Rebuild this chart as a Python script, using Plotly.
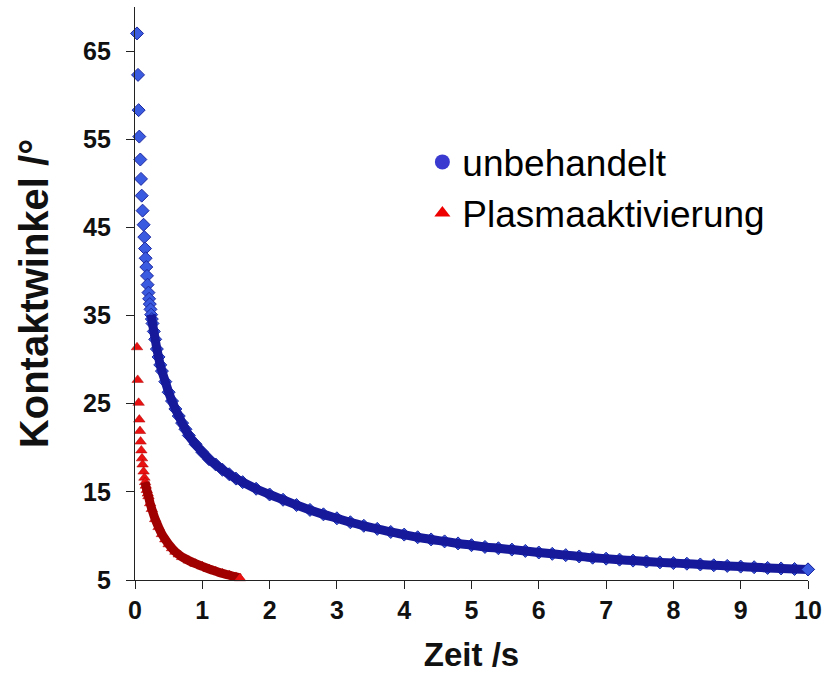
import plotly.graph_objects as go

# ---- data ----
t_unbehandelt = [0.030, 0.045, 0.054, 0.064, 0.079, 0.089, 0.100, 0.113, 0.128, 0.138,
                 0.149, 0.158, 0.168, 0.178, 0.187, 0.20, 0.21, 0.22, 0.23, 0.24,
                 0.25, 0.26, 0.28, 0.30, 0.325, 0.35, 0.375, 0.40, 0.45, 0.50,
                 0.55, 0.60, 0.65, 0.70, 0.75, 0.80, 0.90, 1.0, 1.1, 1.2,
                 1.3, 1.4, 1.5, 1.6, 1.8, 2.0, 2.2, 2.4, 2.6, 2.8,
                 3.0, 3.2, 3.4, 3.6, 3.8, 4.0, 4.2, 4.4, 4.6, 4.8,
                 5.0, 5.2, 5.4, 5.6, 5.8, 6.0, 6.2, 6.4, 6.6, 6.8,
                 7.0, 7.2, 7.4, 7.6, 7.8, 8.0, 8.2, 8.4, 8.6, 8.8,
                 9.0, 9.2, 9.4, 9.6, 9.8, 10.0]
y_unbehandelt = [67.0, 62.3, 58.3, 55.3, 52.7, 50.5, 48.6, 46.9, 45.3, 43.9,
                 42.6, 41.5, 40.5, 39.5, 38.5, 37.6, 36.9, 36.3, 35.7, 35.1,
                 34.6, 34.1, 33.2, 32.3, 31.2, 30.3, 29.4, 28.7, 27.5, 26.3,
                 25.3, 24.4, 23.6, 22.8, 22.1, 21.4, 20.4, 19.5, 18.7, 18.1,
                 17.5, 17.0, 16.5, 16.1, 15.35, 14.7, 14.1, 13.5, 12.95, 12.45,
                 12.0, 11.55, 11.15, 10.8, 10.45, 10.15, 9.85, 9.6, 9.38, 9.15,
                 8.95, 8.75, 8.6, 8.45, 8.3, 8.12, 7.97, 7.82, 7.67, 7.53,
                 7.42, 7.31, 7.2, 7.1, 7.0, 6.92, 6.85, 6.76, 6.67, 6.6,
                 6.52, 6.45, 6.37, 6.31, 6.25, 6.2]

t_plasma = [0.030, 0.040, 0.054, 0.064, 0.074, 0.083, 0.094, 0.104, 0.113, 0.128,
            0.14, 0.15, 0.16, 0.175, 0.19, 0.20, 0.225, 0.25, 0.30, 0.35,
            0.40, 0.45, 0.50, 0.55, 0.60, 0.65, 0.70, 0.80, 0.90, 1.00,
            1.10, 1.20, 1.30, 1.40, 1.50, 1.56]
y_plasma = [31.4, 27.7, 25.1, 23.2, 21.9, 20.7, 19.7, 18.8, 18.1, 17.3,
            16.6, 16.1, 15.7, 15.2, 14.8, 14.5, 13.7, 13.05, 11.9, 11.0,
            10.2, 9.6, 9.05, 8.6, 8.2, 7.9, 7.6, 7.2, 6.85, 6.55,
            6.25, 6.0, 5.75, 5.55, 5.35, 5.2]

series_names = ["unbehandelt", "Plasmaaktivierung"]
x_title = "Zeit /s"
y_title = "Kontaktwinkel /°"

blue_band_from = 19   # index where the blue markers merge into a band
red_band_from = 11

FONT = "Arial, 'Liberation Sans', sans-serif"

fig = go.Figure()

# blue markers
fig.add_trace(go.Scatter(
    x=t_unbehandelt, y=y_unbehandelt, mode="markers", showlegend=False,
    cliponaxis=False,
    marker=dict(symbol="diamond", size=10, color="#3a5ae0",
                line=dict(color="#1e2aa0", width=1))))
# blue dense band
fig.add_trace(go.Scatter(
    x=t_unbehandelt[blue_band_from:], y=y_unbehandelt[blue_band_from:],
    mode="lines", showlegend=False, cliponaxis=False,
    line=dict(color="#15199a", width=9, shape="spline")))
# end marker on top
fig.add_trace(go.Scatter(
    x=t_unbehandelt[-1:], y=y_unbehandelt[-1:], mode="markers", showlegend=False,
    cliponaxis=False,
    marker=dict(symbol="diamond", size=10, color="#3a5ae0",
                line=dict(color="#1e2aa0", width=1))))

# red markers
fig.add_trace(go.Scatter(
    x=t_plasma, y=y_plasma, mode="markers", showlegend=False, cliponaxis=False,
    marker=dict(symbol="triangle-up", size=10, color="#e81212",
                line=dict(color="#b00000", width=0.5))))
# red dense band
fig.add_trace(go.Scatter(
    x=t_plasma[red_band_from:], y=y_plasma[red_band_from:],
    mode="lines", showlegend=False, cliponaxis=False,
    line=dict(color="#a00000", width=9, shape="spline")))
fig.add_trace(go.Scatter(
    x=t_plasma[-1:], y=y_plasma[-1:], mode="markers", showlegend=False,
    cliponaxis=False,
    marker=dict(symbol="triangle-up", size=10, color="#e81212")))

# legend entries
fig.add_trace(go.Scatter(x=[None], y=[None], mode="markers", name=series_names[0],
                         marker=dict(symbol="circle", size=15, color="#3a3ad0")))
fig.add_trace(go.Scatter(x=[None], y=[None], mode="markers", name=series_names[1],
                         marker=dict(symbol="triangle-up", size=14, color="#ee0000")))

axis_common = dict(
    showline=True, linecolor="#222222", linewidth=1.3,
    ticks="outside", ticklen=8, tickcolor="#222222", tickwidth=1.3,
    showgrid=False, zeroline=False, automargin=False,
    tickfont=dict(family=FONT, size=25, color="#111111", weight="bold"),
)

fig.update_layout(
    width=837, height=673,
    paper_bgcolor="white", plot_bgcolor="white",
    margin=dict(l=135, r=29, t=7, b=93),
    font=dict(family=FONT),
    xaxis=dict(range=[0, 10], tick0=0, dtick=1, **axis_common,
               title=dict(text=x_title, standoff=23,
                          font=dict(family=FONT, size=33, color="#111111", weight="bold"))),
    yaxis=dict(range=[5, 70], tick0=5, dtick=10, ticklabelstandoff=10, **axis_common,
               title=dict(text=y_title, standoff=22,
                          font=dict(family=FONT, size=40, color="#111111", weight="bold"))),
    legend=dict(x=0.427, y=0.783, xanchor="left", yanchor="top",
                bgcolor="rgba(0,0,0,0)", borderwidth=0,
                font=dict(family=FONT, size=37, color="#000000")),
)

fig.write_html("out.html", config={"displayModeBar": False},
               post_script="document.body.style.margin='0px';document.body.style.padding='0px';")
